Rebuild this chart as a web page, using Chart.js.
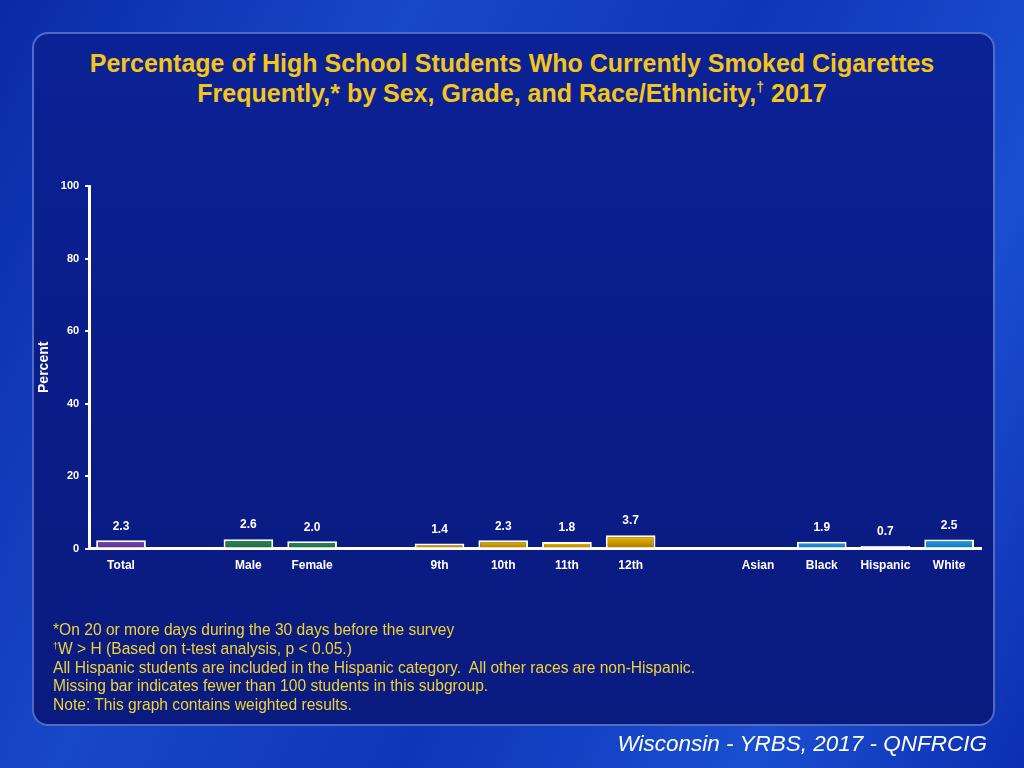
<!DOCTYPE html>
<html>
<head>
<meta charset="utf-8">
<script src="https://cdn.jsdelivr.net/npm/chart.js@4.4.0/dist/chart.umd.min.js"></script>
<style>
  html, body { margin: 0; padding: 0; width: 1024px; height: 768px; overflow: hidden; }
  body {
    position: relative;
    background: linear-gradient(115deg, #0a2aa8 0%, #1748c8 30%, #0e36b8 55%, #1a4fd0 80%, #0c2fb0 100%);
    font-family: "Liberation Sans", Arial, sans-serif;
  }
  #panel {
    position: absolute; left: 32px; top: 32px; width: 959px; height: 690px;
    border-radius: 16px; border: 2px solid rgba(130,160,230,0.6);
    background: linear-gradient(180deg, #0b2296 0%, #0a1d88 50%, #0a1b80 100%);
  }
  #title {
    position: absolute; left: 0; width: 1024px; top: 48px; text-align: center;
    color: #f5c518; font-family: "Liberation Sans Narrow", "Arial Narrow", "Liberation Sans", Arial, sans-serif;
    font-weight: bold; font-size: 25px; line-height: 30px;
  }
  #title sup { font-size: 14px; vertical-align: 10px; line-height: 0; }
  #chartwrap { position: absolute; left: 0; top: 0; width: 1024px; height: 768px; }
  #notes {
    position: absolute; left: 53px; top: 621px; color: #f0d23a;
    font-size: 15.6px; line-height: 18.8px; font-family: "Liberation Sans", Arial, sans-serif;
  }
  #notes sup { font-size: 9px; vertical-align: 5px; line-height: 0; }
  #source {
    position: absolute; right: 37px; top: 731px; color: #ffffff;
    font-style: italic; font-size: 22.5px; font-family: "Liberation Sans", Arial, sans-serif;
  }
</style>
</head>
<body>
<div id="panel"></div>
<div id="title">Percentage of High School Students Who Currently Smoked Cigarettes<br>Frequently,* by Sex, Grade, and Race/Ethnicity,<sup>†</sup> 2017</div>
<div id="chartwrap"><canvas id="c" width="1024" height="768"></canvas></div>
<div id="notes">
*On 20 or more days during the 30 days before the survey<br>
<sup>†</sup>W &gt; H (Based on t-test analysis, p &lt; 0.05.)<br>
All Hispanic students are included in the Hispanic category.&nbsp; All other races are non-Hispanic.<br>
Missing bar indicates fewer than 100 students in this subgroup.<br>
Note: This graph contains weighted results.
</div>
<div id="source">Wisconsin - YRBS, 2017 - QNFRCIG</div>
<script>
// ---- Data ----
const categories = ["Total", "", "Male", "Female", "", "9th", "10th", "11th", "12th", "", "Asian", "Black", "Hispanic", "White"];
const values = [2.3, null, 2.6, 2.0, null, 1.4, 2.3, 1.8, 3.7, null, null, 1.9, 0.7, 2.5];
const yTicks = [0, 20, 40, 60, 80, 100];
const groupOf = ["total", null, "sex", "sex", null, "grade", "grade", "grade", "grade", null, "race", "race", "hisp", "race"];

// ---- Styles ----
const groupColors = {
  total: ["#7a4aa8", "#5a2f88"],
  sex: ["#2f8a55", "#1f6a3e"],
  grade: ["#f2c200", "#a87400"],
  race: ["#22a0e0", "#1276b8"],
  hisp: ["#f4f4fa", "#dcdcec"]
};

function barFill(ctx) {
  const g = groupOf[ctx.dataIndex];
  if (!g) return "transparent";
  const chart = ctx.chart;
  const area = chart.chartArea;
  const ys = chart.scales && chart.scales.y;
  const v = values[ctx.dataIndex];
  if (!area || !ys || v === null) return groupColors[g][0];
  const top = ys.getPixelForValue(v);
  const bottom = ys.getPixelForValue(0);
  if (!isFinite(top) || !isFinite(bottom) || top === bottom) return groupColors[g][0];
  const grad = chart.ctx.createLinearGradient(0, top, 0, bottom);
  grad.addColorStop(0, groupColors[g][0]);
  grad.addColorStop(1, groupColors[g][1]);
  return grad;
}

const labelPlugin = {
  id: "valueLabels",
  afterDatasetsDraw(chart) {
    const ctx = chart.ctx;
    const meta = chart.getDatasetMeta(0);
    ctx.save();
    ctx.fillStyle = "#ffffff";
    ctx.font = "bold 12px 'Liberation Sans', Arial, sans-serif";
    ctx.textAlign = "center";
    ctx.textBaseline = "middle";
    meta.data.forEach((bar, i) => {
      const v = values[i];
      if (v === null || v === undefined) return;
      ctx.fillText(v.toFixed(1), bar.x, bar.y - 14);
    });
    ctx.restore();
  }
};

new Chart(document.getElementById("c"), {
  type: "bar",
  data: {
    labels: categories,
    datasets: [{
      data: values,
      backgroundColor: barFill,
      borderColor: "#ffffff",
      borderWidth: 2,
      borderSkipped: "bottom",
      categoryPercentage: 0.78,
      barPercentage: 1.0
    }]
  },
  options: {
    responsive: false,
    animation: false,
    devicePixelRatio: 1,
    layout: { padding: { left: 28, right: 43, top: 186, bottom: 185 } },
    plugins: { legend: { display: false }, tooltip: { enabled: false } },
    scales: {
      x: {
        grid: { display: false, drawTicks: false },
        border: { color: "#ffffff", width: 3 },
        ticks: { color: "#ffffff", font: { family: "'Liberation Sans', Arial", weight: "bold", size: 12 }, padding: 10, maxRotation: 0, autoSkip: false }
      },
      y: {
        min: 0, max: 100,
        afterBuildTicks(axis) { axis.ticks = yTicks.map(v => ({ value: v })); },
        grid: { drawOnChartArea: false, color: "#ffffff", tickLength: 4, lineWidth: 2 },
        border: { color: "#ffffff", width: 3 },
        ticks: { color: "#ffffff", font: { family: "'Liberation Sans', Arial", weight: "bold", size: 11 }, padding: 6 },
        title: { display: true, text: "Percent", color: "#ffffff", font: { family: "'Liberation Sans', Arial", weight: "bold", size: 14 }, padding: { top: 8, bottom: 2 } }
      }
    }
  },
  plugins: [labelPlugin]
});
</script>
</body>
</html>
